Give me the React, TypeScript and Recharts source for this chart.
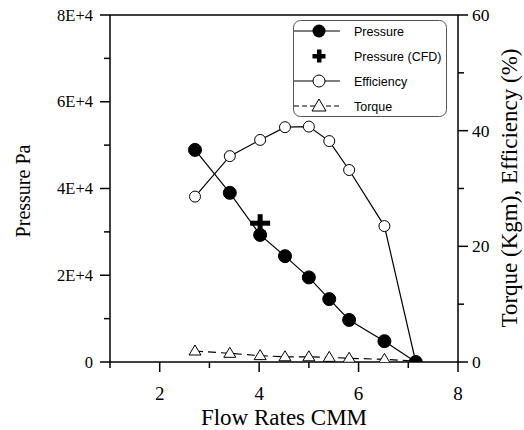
import React from 'react';
import { ComposedChart, Scatter, XAxis, YAxis, ReferenceLine } from 'recharts';

const flow = [2.71, 3.41, 4.02, 4.52, 5.0, 5.41, 5.81, 6.52, 7.15];
const pressure = [48900, 39000, 29300, 24400, 19500, 14500, 9700, 4800, 0];
const efficiency = [28.6, 35.6, 38.4, 40.6, 40.7, 38.2, 33.2, 23.5, 0];
const torque = [1.9, 1.5, 1.1, 0.9, 0.9, 0.8, 0.65, 0.45, 0.15];
const cfdFlow = [4.02];
const cfdPressure = [32000];

const xTicks = [1, 2, 3, 4, 5, 6, 7, 8];
const xLabels = ['', '2', '', '4', '', '6', '', '8'];
const leftTicks = [0, 10000, 20000, 30000, 40000, 50000, 60000, 70000, 80000];
const leftLabels = ['0', '', '2E+4', '', '4E+4', '', '6E+4', '', '8E+4'];
const rightTicks = [0, 10, 20, 30, 40, 50, 60];
const rightLabels = ['0', '', '20', '', '40', '', '60'];

const legendNames = ['Pressure', 'Pressure (CFD)', 'Efficiency', 'Torque'];
const xTitle = 'Flow Rates CMM';
const leftTitle = 'Pressure Pa';
const rightTitle = 'Torque (Kgm), Efficiency (%)';

const pressureData = flow.map((x, i) => ({ x, y: pressure[i] }));
const efficiencyData = flow.map((x, i) => ({ x, y: efficiency[i] }));
const torqueData = flow.map((x, i) => ({ x, y: torque[i] }));
const cfdData = cfdFlow.map((x, i) => ({ x, y: cfdPressure[i] }));

const SERIF = '"Liberation Serif", "Times New Roman", serif';
const SANS = '"Liberation Sans", Arial, sans-serif';
const HIDDEN_TICK = { stroke: 'transparent' };
const AXIS_LINE = { stroke: '#000', strokeWidth: 1.5 };

// bottom: y prop = axisY + 10 ; left: x prop = axisX - 10 ; right: x prop = axisX + 10
const renderXTick = (props: any) => {
  const { x, y, payload } = props;
  const idx = xTicks.indexOf(payload.value);
  const label = idx >= 0 ? xLabels[idx] : '';
  const major = label !== '';
  return (
    <g key={`xt-${payload.value}`}>
      <line x1={x} x2={x} y1={y - 10} y2={major ? y : y - 4} stroke="#000" strokeWidth={1.5} />
      {major && (
        <text x={x} y={y + 28} textAnchor="middle" fill="#000" fontFamily={SERIF} fontSize={19}>
          {label}
        </text>
      )}
    </g>
  );
};

const renderLeftTick = (props: any) => {
  const { x, y, payload } = props;
  const idx = leftTicks.indexOf(payload.value);
  const label = idx >= 0 ? leftLabels[idx] : '';
  const major = label !== '';
  return (
    <g key={`lt-${payload.value}`}>
      <line x1={major ? x : x + 4} x2={x + 10} y1={y} y2={y} stroke="#000" strokeWidth={1.5} />
      {major && (
        <text x={x - 7} y={y + 5.5} textAnchor="end" fill="#000" fontFamily={SERIF} fontSize={16.5}>
          {label}
        </text>
      )}
    </g>
  );
};

const renderRightTick = (props: any) => {
  const { x, y, payload } = props;
  const idx = rightTicks.indexOf(payload.value);
  const label = idx >= 0 ? rightLabels[idx] : '';
  const major = label !== '';
  return (
    <g key={`rt-${payload.value}`}>
      <line x1={x - 10} x2={major ? x : x - 4} y1={y} y2={y} stroke="#000" strokeWidth={1.5} />
      {major && (
        <text x={x + 4} y={y + 6} textAnchor="start" fill="#000" fontFamily={SERIF} fontSize={17.5}>
          {label}
        </text>
      )}
    </g>
  );
};

const FilledCircle = (props: any) => {
  const { cx, cy } = props;
  if (cx == null || cy == null) return null;
  return <circle cx={cx} cy={cy} r={6.5} fill="#000" stroke="#000" />;
};

const OpenCircle = (props: any) => {
  const { cx, cy } = props;
  if (cx == null || cy == null) return null;
  return <circle cx={cx} cy={cy} r={5.5} fill="#fff" stroke="#000" strokeWidth={1} />;
};

const OpenTriangle = (props: any) => {
  const { cx, cy } = props;
  if (cx == null || cy == null) return null;
  return (
    <path
      d={`M${cx},${cy - 6} L${cx + 6},${cy + 4} L${cx - 6},${cy + 4} Z`}
      fill="#fff"
      stroke="#000"
      strokeWidth={1}
    />
  );
};

const Plus = (props: any) => {
  const { cx, cy } = props;
  if (cx == null || cy == null) return null;
  return (
    <g>
      <rect x={cx - 10} y={cy - 2.5} width={20} height={5} fill="#000" />
      <rect x={cx - 2.5} y={cy - 9} width={5} height={18} fill="#000" />
    </g>
  );
};

const LegendBox = () => {
  const rows = [11, 36, 61, 86];
  const mx = 26;
  return (
    <g transform="translate(293, 20)">
      <rect x={0.5} y={0.5} width={153} height={96} rx={7} ry={7} fill="#fff" stroke="#555" strokeWidth={1} />
      <line x1={1} x2={47} y1={rows[0]} y2={rows[0]} stroke="#000" strokeWidth={1.2} />
      <circle cx={mx} cy={rows[0]} r={6.5} fill="#000" />
      <rect x={mx - 6.5} y={rows[1] - 2} width={13} height={4.5} fill="#000" />
      <rect x={mx - 2} y={rows[1] - 6.5} width={4.5} height={13} fill="#000" />
      <line x1={1} x2={47} y1={rows[2]} y2={rows[2]} stroke="#000" strokeWidth={1.2} />
      <circle cx={mx} cy={rows[2]} r={6} fill="#fff" stroke="#000" strokeWidth={1} />
      <line x1={1} x2={47} y1={rows[3]} y2={rows[3]} stroke="#000" strokeWidth={1.2} strokeDasharray="5 3" />
      <path d={`M${mx},${rows[3] - 7} L${mx + 7},${rows[3] + 5} L${mx - 7},${rows[3] + 5} Z`} fill="#fff" stroke="#000" strokeWidth={1} />
      {legendNames.map((n, i) => (
        <text key={n} x={61} y={rows[i] + 4.5} fontFamily={SANS} fontSize={12.5} fill="#000">
          {n}
        </text>
      ))}
    </g>
  );
};

export default function App() {
  return (
    <div style={{ position: 'absolute', left: 0, top: 0, width: 524, height: 430, background: '#fff' }}>
      <ComposedChart width={524} height={430} margin={{ top: 15, right: 0, bottom: 0, left: 0 }}>
        <XAxis
          dataKey="x"
          type="number"
          domain={[1, 8]}
          ticks={xTicks}
          interval={0}
          tick={renderXTick}
          tickLine={HIDDEN_TICK}
          axisLine={AXIS_LINE}
          tickSize={10}
          tickMargin={0}
          height={68}
          allowDataOverflow
        />
        <YAxis
          yAxisId="left"
          orientation="left"
          type="number"
          domain={[0, 80000]}
          ticks={leftTicks}
          interval={0}
          tick={renderLeftTick}
          tickLine={HIDDEN_TICK}
          axisLine={AXIS_LINE}
          tickSize={10}
          tickMargin={0}
          width={110}
          allowDataOverflow
        />
        <YAxis
          yAxisId="right"
          orientation="right"
          type="number"
          domain={[0, 60]}
          ticks={rightTicks}
          interval={0}
          tick={renderRightTick}
          tickLine={HIDDEN_TICK}
          axisLine={AXIS_LINE}
          tickSize={10}
          tickMargin={0}
          width={66}
          allowDataOverflow
        />
        <ReferenceLine yAxisId="left" y={80000} stroke="#000" strokeWidth={1.5} />
        <Scatter
          data={efficiencyData}
          dataKey="y"
          yAxisId="right"
          fill="#fff"
          line={{ stroke: '#000', strokeWidth: 1.2 }}
          lineType="joint"
          shape={<OpenCircle />}
          isAnimationActive={false}
        />
        <Scatter
          data={torqueData}
          dataKey="y"
          yAxisId="right"
          fill="#fff"
          line={{ stroke: '#000', strokeWidth: 1.2, strokeDasharray: '8 5' }}
          lineType="joint"
          shape={<OpenTriangle />}
          isAnimationActive={false}
        />
        <Scatter
          data={pressureData}
          dataKey="y"
          yAxisId="left"
          fill="#000"
          line={{ stroke: '#000', strokeWidth: 1.2 }}
          lineType="joint"
          shape={<FilledCircle />}
          isAnimationActive={false}
        />
        <Scatter
          data={cfdData}
          dataKey="y"
          yAxisId="left"
          fill="#000"
          shape={<Plus />}
          isAnimationActive={false}
        />
      </ComposedChart>
      <svg
        width={524}
        height={430}
        style={{ position: 'absolute', left: 0, top: 0, pointerEvents: 'none' }}
      >
        <LegendBox />
        <text x={284} y={425} textAnchor="middle" fontFamily={SERIF} fontSize={23} fill="#000">
          {xTitle}
        </text>
        <text
          x={23}
          y={191}
          transform="rotate(-90, 23, 191)"
          textAnchor="middle"
          dominantBaseline="central"
          fontFamily={SERIF}
          fontSize={20}
          fill="#000"
        >
          {leftTitle}
        </text>
        <text
          x={509}
          y={188}
          transform="rotate(-90, 509, 188)"
          textAnchor="middle"
          dominantBaseline="central"
          fontFamily={SERIF}
          fontSize={23}
          fill="#000"
        >
          {rightTitle}
        </text>
      </svg>
    </div>
  );
}
